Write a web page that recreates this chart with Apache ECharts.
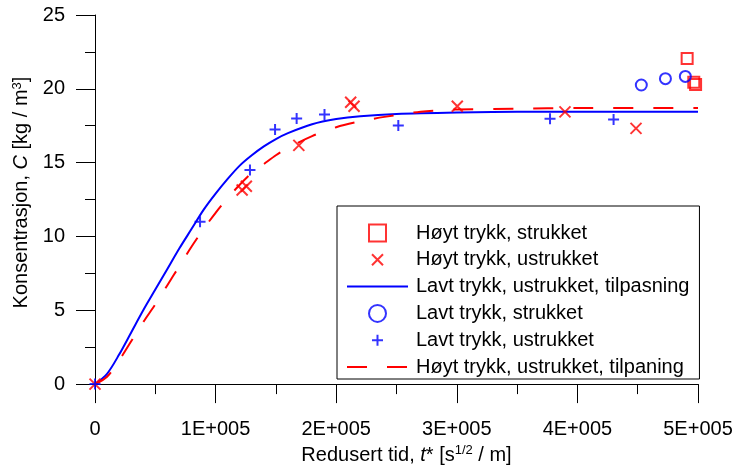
<!DOCTYPE html>
<html>
<head>
<meta charset="utf-8">
<script src="https://cdn.jsdelivr.net/npm/echarts@6/dist/echarts.min.js"></script>
<style>
html,body{margin:0;padding:0;background:#fff;}
#c{width:738px;height:470px;}
</style>
</head>
<body>
<div id="c"></div>
<script>
// ---- Data (x in s^(1/2)/m, y in kg/m3) ----
const highStretchedX = [491000, 496500, 498000];
const highStretchedY = [22.06, 20.45, 20.3];

const highUnstretchedX = [0, 122000, 125500, 169000, 212000, 214800, 300400, 389700, 448600];
const highUnstretchedY = [0, 13.15, 13.4, 16.17, 19.09, 18.82, 18.82, 18.44, 17.32];

const lowStretchedX = [453000, 473000, 489500];
const lowStretchedY = [20.26, 20.69, 20.84];

const lowUnstretchedX = [0, 87100, 128500, 149300, 167200, 190300, 251500, 377300, 430000];
const lowUnstretchedY = [0, 11.0, 14.5, 17.25, 17.99, 18.26, 17.52, 17.97, 17.92];

// fitted curves
const lowFitX = [0, 10000, 20000, 30000, 40000, 50000, 60000, 70000, 80000, 90000, 100000, 110000, 120000, 130000, 140000, 150000, 160000, 180000, 200000, 220000, 250000, 300000, 350000, 400000, 500000];
const lowFitY = [0, 0.7, 2.0, 3.5, 5.0, 6.4, 7.8, 9.2, 10.5, 11.8, 12.9, 13.9, 14.8, 15.5, 16.1, 16.6, 17.0, 17.6, 17.95, 18.15, 18.3, 18.4, 18.45, 18.45, 18.45];

const highFitX = [0, 10000, 20000, 30000, 40000, 50000, 60000, 70000, 80000, 90000, 100000, 110000, 120000, 130000, 140000, 150000, 160000, 180000, 200000, 220000, 240000, 270000, 300000, 350000, 400000, 500000];
const highFitY = [0, 0.5, 1.6, 2.9, 4.2, 5.4, 6.7, 8.0, 9.3, 10.5, 11.6, 12.6, 13.5, 14.3, 14.9, 15.5, 16.0, 16.8, 17.4, 17.8, 18.1, 18.45, 18.6, 18.65, 18.7, 18.7];

const xTicks = [0, 100000, 200000, 300000, 400000, 500000];
const xTickLabels = ['0', '1E+005', '2E+005', '3E+005', '4E+005', '5E+005'];

const names = [
  'Høyt trykk, strukket',
  'Høyt trykk, ustrukket',
  'Lavt trykk, ustrukket, tilpasning',
  'Lavt trykk, strukket',
  'Lavt trykk, ustrukket',
  'Høyt trykk, ustrukket, tilpaning'
];

function pairs(xs, ys) { return xs.map((x, i) => [x, ys[i]]); }

const RED = '#FF0000', BLUE = '#0000FF';
const FONT = "'Liberation Sans', Arial, sans-serif";
const squarePath = 'path://M0,0L17,0L17,17L0,17Z';
const crossPath = 'path://M0,0M17,17M3,3L14,14M14,3L3,14';
const plusPath = 'path://M0,0M17,17M8.5,3L8.5,14M3,8.5L14,8.5';
const CLEAR = 'rgba(255,255,255,0)';

const chart = echarts.init(document.getElementById('c'), null, {renderer: 'canvas'});
chart.setOption({
  animation: false,
  backgroundColor: '#fff',
  textStyle: {fontFamily: FONT},
  grid: {left: 95, right: 40, top: 15, bottom: 84, containLabel: false},
  xAxis: {
    type: 'value', min: 0, max: 500000, interval: 100000,
    axisLine: {show: true, onZero: false, lineStyle: {color: '#000', width: 1}},
    axisTick: {show: true, inside: false, length: 19, lineStyle: {color: '#000'}},
    minorTick: {show: true, splitNumber: 2, length: 10, lineStyle: {color: '#000'}},
    splitLine: {show: false},
    axisLabel: {
      fontSize: 20, color: '#000', fontFamily: FONT, margin: 35,
      formatter: v => { const i = xTicks.indexOf(v); return i >= 0 ? xTickLabels[i] : ''; }
    },
    name: '{n|Redusert tid, }{i|t}{n|* [s}{s|1/2}{n| / m]}',
    nameLocation: 'middle', nameGap: 55,
    nameTextStyle: {
      padding: [0, 0, 0, 20],
      rich: {
        n: {fontSize: 20, lineHeight: 22, color: '#000', fontFamily: FONT},
        i: {fontSize: 20, lineHeight: 22, color: '#000', fontStyle: 'italic', fontFamily: FONT},
        s: {fontSize: 13, lineHeight: 13, color: '#000', verticalAlign: 'top', fontFamily: FONT}
      }
    }
  },
  yAxis: {
    type: 'value', min: 0, max: 25, interval: 5,
    axisLine: {show: true, onZero: false, lineStyle: {color: '#000', width: 1}},
    axisTick: {show: true, inside: false, length: 19, lineStyle: {color: '#000'}},
    minorTick: {show: true, splitNumber: 2, length: 10, lineStyle: {color: '#000'}},
    splitLine: {show: false},
    axisLabel: {fontSize: 20, color: '#000', fontFamily: FONT, margin: 30},
    name: '{n|Konsentrasjon, }{i|C}{n| [kg / m}{s|3}{n|]}',
    nameLocation: 'middle', nameGap: 57, nameRotate: 90,
    nameTextStyle: {
      padding: [0, 0, 0, 14],
      rich: {
        n: {fontSize: 20, lineHeight: 22, color: '#000', fontFamily: FONT},
        i: {fontSize: 20, lineHeight: 22, color: '#000', fontStyle: 'italic', fontFamily: FONT},
        s: {fontSize: 13, lineHeight: 13, color: '#000', verticalAlign: 'top', fontFamily: FONT}
      }
    }
  },
  legend: {
    orient: 'vertical', left: 337, top: 206,
    padding: [17, 10, 2, 9],
    borderColor: '#000', borderWidth: 1, backgroundColor: '#fff',
    itemWidth: 61, itemHeight: 17, itemGap: 6.8,
    symbolKeepAspect: true,
    textStyle: {fontSize: 20, lineHeight: 20, color: '#000', fontFamily: FONT, padding: [0, 0, 0, 3]},
    data: names
  },
  series: [
    {
      name: names[2], type: 'line', data: pairs(lowFitX, lowFitY), z: 1,
      symbol: 'none', smooth: 0.3,
      lineStyle: {color: BLUE, width: 2}, itemStyle: {color: CLEAR, borderWidth: 0}
    },
    {
      name: names[5], type: 'line', data: pairs(highFitX, highFitY), z: 1,
      symbol: 'none', smooth: 0.3,
      lineStyle: {color: RED, width: 2, type: [20, 20]}, itemStyle: {color: CLEAR, borderWidth: 0}
    },
    {
      name: names[0], type: 'scatter', data: pairs(highStretchedX, highStretchedY), z: 3,
      symbol: squarePath, symbolSize: 11, symbolKeepAspect: true,
      itemStyle: {color: CLEAR, borderColor: RED, borderWidth: 2}
    },
    {
      name: names[1], type: 'scatter', data: pairs(highUnstretchedX, highUnstretchedY), z: 3,
      symbol: crossPath, symbolSize: 17, symbolKeepAspect: true,
      itemStyle: {color: RED, borderColor: RED, borderWidth: 2}
    },
    {
      name: names[3], type: 'scatter', data: pairs(lowStretchedX, lowStretchedY), z: 3,
      symbol: 'circle', symbolSize: 11,
      itemStyle: {color: CLEAR, borderColor: BLUE, borderWidth: 2}
    },
    {
      name: names[4], type: 'scatter', data: pairs(lowUnstretchedX, lowUnstretchedY), z: 3,
      symbol: plusPath, symbolSize: 17, symbolKeepAspect: true,
      itemStyle: {color: BLUE, borderColor: BLUE, borderWidth: 2}
    }
  ]
});
</script>
</body>
</html>
